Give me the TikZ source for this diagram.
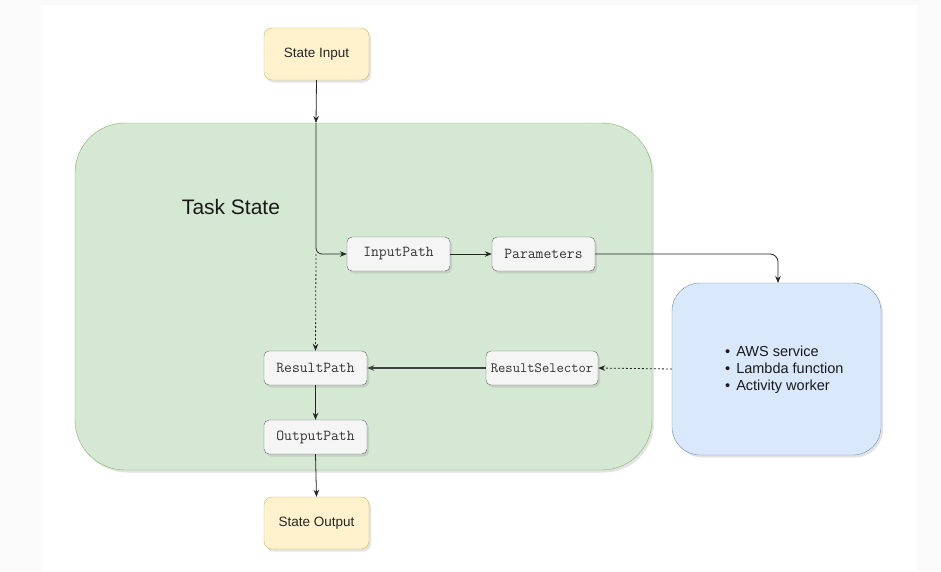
\documentclass[tikz,border=0pt]{standalone}
\usepackage{fontspec}
\setmainfont{Liberation Sans}
\usetikzlibrary{arrows.meta,shadows}
\definecolor{bgout}{HTML}{FAFAFA}
\definecolor{ylwfill}{HTML}{FFF2CC}
\definecolor{ylwline}{HTML}{D6B656}
\definecolor{grnfill}{HTML}{D5E8D4}
\definecolor{grnline}{HTML}{82B366}
\definecolor{blufill}{HTML}{DAE8FC}
\definecolor{bluline}{HTML}{6C8EBF}
\definecolor{gryfill}{HTML}{F5F5F5}
\definecolor{gryline}{HTML}{666666}
\definecolor{txtgray}{HTML}{333333}
\tikzset{
  x=1pt,y=-1pt,
  shd/.style={drop shadow={opacity=0.22,shadow xshift=2pt,shadow yshift=-2.5pt}},
  statebox/.style={shd,draw=ylwline,fill=ylwfill,rounded corners=8pt,minimum width=105pt,minimum height=52pt,inner sep=0pt,font=\fontsize{13.5}{16}\selectfont,text=black!85},
  pathbox/.style={shd,draw=gryline,fill=gryfill,rounded corners=5pt,minimum width=103pt,minimum height=34pt,inner sep=0pt,font=\ttfamily\fontsize{15.2}{18}\selectfont,text=txtgray},
  conn/.style={draw=black!85,line width=0.8pt,-{Stealth[length=7pt,width=5.5pt]}},
  dconn/.style={conn,dash pattern=on 2pt off 2pt},
}
\begin{document}
\begin{tikzpicture}
\useasboundingbox (0,0) rectangle (941,571);
\fill[bgout] (0,0) rectangle (941,571);
\fill[white] (42,5) rectangle (917,571);

% containers
\node[shd,draw=grnline,fill=grnfill,rounded corners=50pt,minimum width=577pt,minimum height=347pt,inner sep=0pt] (task) at (363.5,296.5) {};
\node[font=\fontsize{21}{25}\selectfont,text=black!90] (tasklbl) at (231,207) {Task State};
\node[shd,draw=bluline,fill=blufill,rounded corners=28pt,minimum width=209pt,minimum height=172pt,inner sep=0pt] (aws) at (776.5,369) {};
\node[anchor=west,align=left,font=\fontsize{14.5}{17}\selectfont,text=black!90,inner sep=0pt] (awslist) at (725,370)
  {\textbullet\hspace{6pt}AWS service\\\textbullet\hspace{6pt}Lambda function\\\textbullet\hspace{6pt}Activity worker};

% states
\node[statebox] (sin) at (316.5,54) {State Input};
\node[statebox] (sout) at (316.5,523) {State Output};

% path boxes
\node[pathbox] (inp) at (398.5,254) {InputPath};
\node[pathbox] (par) at (543.5,254) {Parameters};
\node[pathbox,minimum width=112pt,font=\ttfamily\fontsize{14.2}{17}\selectfont] (rsel) at (542,368) {ResultSelector};
\node[pathbox] (rpath) at (315.5,368) {ResultPath};
\node[pathbox] (opath) at (315.5,437) {OutputPath};

\coordinate (ttop) at (316,123);
\coordinate (junc) at (316,254);

% connectors
\draw[conn] (sin.south) -- (ttop);
\draw[conn,rounded corners=6pt] (ttop) -- (junc) -- (inp.west);
\draw[conn] (inp.east) -- (par.west);
\draw[conn,rounded corners=8pt] (par.east) -- (778,254) -- (778,283);
\draw[dconn] (junc) -- (rpath.north);
\draw[dconn] (aws.west) -- (rsel.east);
\draw[conn,draw=black!75,line width=1.4pt] (rsel.west) -- (rpath.east);
\draw[conn] (rpath.south) -- (opath.north);
\draw[conn] (opath.south) -- (sout.north);
\end{tikzpicture}
\end{document}
